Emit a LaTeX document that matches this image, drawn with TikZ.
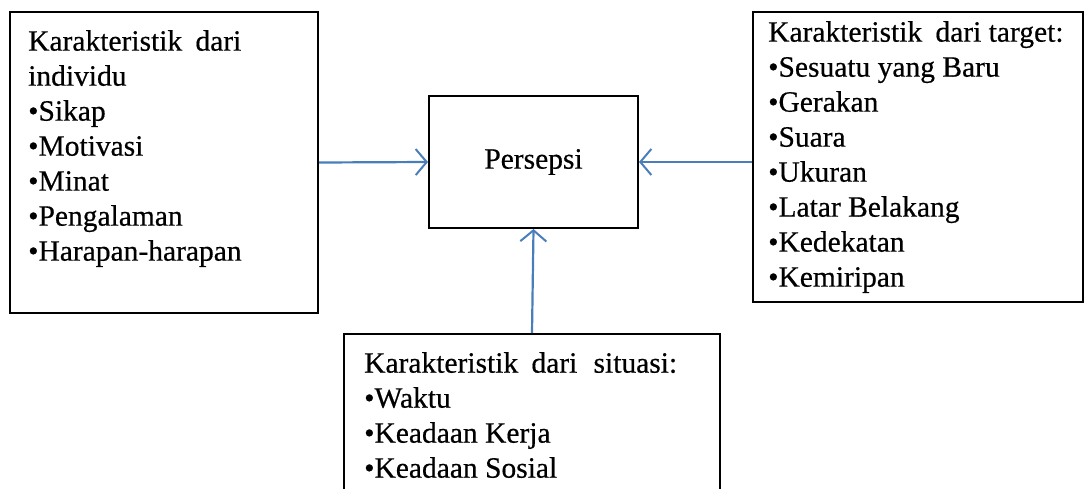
\documentclass[tikz,border=0pt]{standalone}
\usepackage{fontspec}
\setmainfont{Liberation Serif}[FakeBold=0.5]
\usetikzlibrary{arrows.meta}
\definecolor{arrowblue}{RGB}{74,126,187}
\tikzset{
  box/.style={draw=black, line width=2pt, inner sep=0pt},
  txt/.style={anchor=north west, align=left, inner sep=0pt, font=\fontsize{29.5}{35}\selectfont},
  link/.style={draw=arrowblue, line width=2.2pt, -{Straight Barb[length=11pt,width=26pt,line width=2pt]}}
}
\newcommand{\itm}{\textbullet}
\newcommand{\wsp}{\hspace{0.45em}}
\begin{document}
\begin{tikzpicture}[x=1pt,y=-1pt]
\useasboundingbox (0,0) rectangle (1085,488);
% boxes
\node[box, minimum width=308pt, minimum height=301pt] (ind) at (164,162.5) {};
\node[box, minimum width=209pt, minimum height=132pt] (per) at (533.5,162) {};
\node[box, minimum width=330pt, minimum height=290pt] (tgt) at (918,157) {};
\node[box, minimum width=376pt, minimum height=180pt] (sit) at (532,424) {};
% texts
\node[txt] (indt) at (28,30) {Karakteristik\wsp dari\\individu\\\itm Sikap\\\itm Motivasi\\\itm Minat\\\itm Pengalaman\\\itm Harapan-harapan};
\node[txt] (tgtt) at (768,21) {Karakteristik\wsp dari target:\\\itm Sesuatu yang Baru\\\itm Gerakan\\\itm Suara\\\itm Ukuran\\\itm Latar Belakang\\\itm Kedekatan\\\itm Kemiripan};
\node[txt] (sitt) at (364,352) {Karakteristik\wsp dari\hspace{0.3em} situasi:\\\itm Waktu\\\itm Keadaan Kerja\\\itm Keadaan Sosial};
\node[font=\fontsize{29.5}{35}\selectfont] (pert) at (per.center) {Persepsi};
% connectors
\draw[link] (ind.east) -- (per.west);
\draw[link] (tgt.west |- per.west) -- (per.east);
\draw[link] (sit.north) -- (per.south);
\end{tikzpicture}
\end{document}
